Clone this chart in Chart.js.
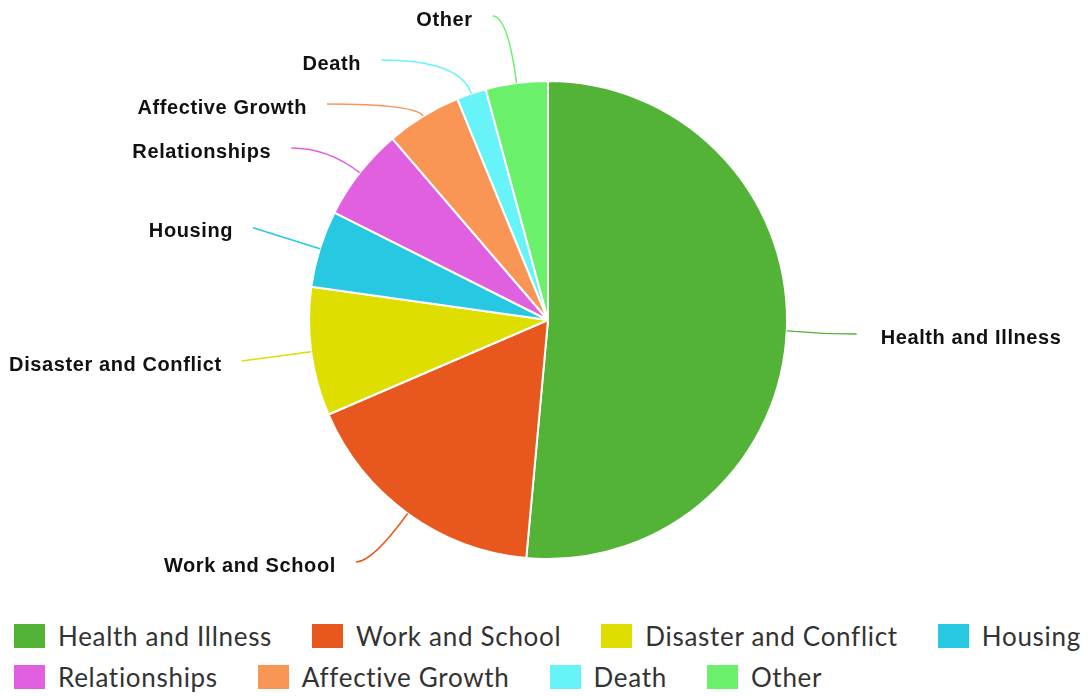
<!DOCTYPE html>
<html>
<head>
<meta charset="utf-8">
<script src="https://cdn.jsdelivr.net/npm/chart.js@4.4.1/dist/chart.umd.min.js"></script>
<style>
  body { margin: 0; background: #fff; width: 1089px; height: 696px; overflow: hidden; }
  #wrap { position: relative; width: 1089px; height: 600px; }
  #legend { position: absolute; left: 14px; top: 624px; width: 1100px; font-family: Lato, "Open Sans", sans-serif; font-size: 26px; letter-spacing: 0.7px; color: #333; }
  .row { display: flex; column-gap: 40px; margin-bottom: 17px; white-space: nowrap; }
  .item { display: flex; align-items: center; height: 24px; }
  .box { width: 31px; height: 24px; margin-right: 13px; flex: none; }
</style>
</head>
<body>
<div id="wrap"><canvas id="pie" width="1089" height="600"></canvas></div>
<div id="legend"></div>
<script>
const labels = ['Health and Illness', 'Work and School', 'Disaster and Conflict', 'Housing', 'Relationships', 'Affective Growth', 'Death', 'Other'];
const shares = [51.5, 17.1, 8.7, 5.2, 6.3, 5.1, 2.0, 4.2];
const colors = ['#53b336', '#e8571e', '#dede00', '#26c8e2', '#e060e0', '#f99656', '#66f4f8', '#6af06a'];

// labels outside the pie with curved connectors
const leaderLabels = {
    id: 'leaderLabels',
    afterDatasetsDraw(chart) {
        const ctx = chart.ctx;
        const arcs = chart.getDatasetMeta(0).data;
        const dist = 70, gap = 44;
        const bottom = chart.chartArea.bottom + 2;
        const items = arcs.map((arc, i) => {
            const a = (arc.startAngle + arc.endAngle) / 2;
            const r = arc.outerRadius;
            return {i, a, r, cx: arc.x, cy: arc.y, right: Math.cos(a) >= 0, y: arc.y + Math.sin(a) * (r + dist)};
        });
        [true, false].forEach(side => {
            const group = items.filter(it => it.right === side).sort((p, q) => p.y - q.y);
            let last = -Infinity;
            group.forEach(it => { it.y = Math.min(Math.max(it.y, 16, last + gap), bottom); last = it.y; });
        });
        ctx.save();
        items.forEach(it => {
            const R = it.r + dist;
            const dy = it.y - it.cy;
            const dx = Math.sqrt(Math.max(R * R - dy * dy, 0));
            const x = it.right ? it.cx + dx : it.cx - dx;
            const cos = Math.cos(it.a), sin = Math.sin(it.a);
            const tx = it.cx + cos * it.r, ty = it.cy + sin * it.r;
            // control point: where the radial line meets the label's row
            let t = Math.abs(sin) > 0.05 ? (it.y - ty) / sin : dist / 2;
            t = Math.max(8, Math.min(t, dist));
            let kx = tx + cos * t;
            kx = it.right ? Math.min(kx, x) : Math.max(kx, x);
            ctx.beginPath();
            ctx.moveTo(x, it.y);
            ctx.quadraticCurveTo(kx, it.y, tx, ty);
            ctx.strokeStyle = colors[it.i];
            ctx.lineWidth = 1.5;
            ctx.stroke();
            ctx.fillStyle = '#111';
            ctx.font = 'bold 20px "Liberation Sans", Arial, sans-serif';
            ctx.letterSpacing = '0.6px';
            ctx.textBaseline = 'middle';
            ctx.textAlign = it.right ? 'left' : 'right';
            ctx.fillText(labels[it.i], it.right ? x + 24 : x - 20, it.y + 4);
        });
        ctx.restore();
    }
};

new Chart(document.getElementById('pie'), {
    type: 'pie',
    data: {
        labels: labels,
        datasets: [{
            data: shares,
            backgroundColor: colors,
            borderColor: '#fff',
            borderWidth: 2
        }]
    },
    options: {
        responsive: false,
        animation: false,
        layout: {padding: {top: 80, bottom: 40, left: 7, right: 0}},
        plugins: {
            legend: {display: false},
            tooltip: {enabled: false}
        }
    },
    plugins: [leaderLabels]
});

// legend, two rows like the original
const legendDiv = document.getElementById('legend');
[labels.slice(0, 4), labels.slice(4)].forEach((rowNames, r) => {
    const row = document.createElement('div');
    row.className = 'row';
    rowNames.forEach((name, j) => {
        const i = r * 4 + j;
        row.innerHTML += `<div class="item"><span class="box" style="background:${colors[i]}"></span>${name}</div>`;
    });
    legendDiv.appendChild(row);
});
</script>
</body>
</html>
